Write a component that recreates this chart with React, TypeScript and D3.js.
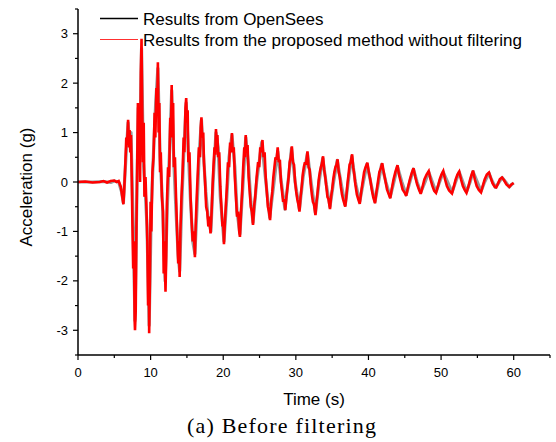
import React from "react";
import * as d3 from "d3";

// OpenSees result (black): [time s, acceleration g]
const openSeesT = [0,2,3.5,4.5,5,5.6,6,6.25,6.6,6.9,7.1,7.3,7.55,7.85,8.1,8.3,8.5,8.75,9,9.3,9.5,9.8,10.1,10.4,10.7,11,11.3,11.6,12,12.3,12.6,12.9,13.2,13.5,13.8,14,14.3,14.6,14.9,15.2,15.5,15.8,16.1,16.4,16.7,17,17.3,17.6,17.9,18.3,18.6,19,19.3,19.6,20.1,20.5,20.8,21.2,21.6,21.9,22.3,22.7,23.1,23.5,23.8,24.1,24.6,25.3,25.8,26.4,27,27.5,28,28.5,29,29.4,29.9,30.5,31,31.6,32.1,32.7,33.2,33.7,34.2,34.7,35.2,35.7,36.2,36.8,37.3,37.7,38.2,38.8,39.3,39.8,40.3,40.9,41.4,41.8,42.4,43,43.5,44,44.6,45.2,45.7,46.2,46.7,47.2,47.8,48.3,48.8,49.3,49.8,50.3,50.9,51.5,52,52.5,53,53.5,54,54.4,55,55.5,56,56.6,57,57.5,58,58.4,58.9,59.4,59.8,60];
const openSeesA = [0,0,0.01,-0.01,0.02,0,-0.2,-0.42,0.5,1.2,0.75,1.0,-0.6,-2.8,-0.3,1.5,0.6,2.7,0.4,-0.3,-0.9,-2.9,-0.5,0.6,1.6,2.3,0.5,-0.3,-2.0,-0.5,0.6,1.85,0.4,-0.6,-1.5,-1.8,-0.4,0.7,1.6,0.6,-0.4,-1.2,-1.45,-0.5,0.6,1.25,0.5,-0.2,-0.7,-1.0,0,1.0,0.7,-0.3,-1.2,-0.3,0.5,0.95,0.3,-0.6,-1.05,-0.1,0.9,0.3,-0.4,-0.82,0,0.8,0.1,-0.72,0,0.62,0,-0.55,0.1,0.68,0,-0.55,0.1,0.58,0,-0.63,0,0.48,-0.05,-0.5,0,0.44,0,-0.47,0.1,0.52,0,-0.4,0,0.36,0,-0.4,0,0.35,0,-0.3,0,0.31,0,-0.26,0,0.26,0,-0.21,0,0.2,0,-0.2,0,0.2,0,-0.21,0,0.2,0,-0.2,0,0.21,0,-0.19,0,0.18,0.03,-0.11,0,0.09,0,-0.1,-0.04,-0.02];

// Proposed method without filtering (red)
const proposedT = [0,1,2,3,3.5,4,4.5,5,5.3,5.6,5.9,6.1,6.25,6.35,6.5,6.65,6.75,6.9,7,7.1,7.2,7.3,7.4,7.5,7.6,7.7,7.8,7.85,7.95,8.05,8.15,8.25,8.35,8.45,8.55,8.65,8.75,8.85,8.95,9.05,9.15,9.3,9.4,9.55,9.65,9.75,9.8,9.9,10,10.1,10.25,10.4,10.55,10.65,10.8,10.9,11,11.1,11.2,11.3,11.4,11.55,11.7,11.8,11.9,12.05,12.15,12.25,12.4,12.55,12.7,12.8,12.9,13,13.1,13.2,13.35,13.5,13.65,13.8,13.9,14,14.1,14.25,14.4,14.55,14.65,14.8,14.9,15,15.1,15.2,15.35,15.5,15.65,15.8,15.95,16.1,16.2,16.35,16.5,16.65,16.8,16.9,17,17.1,17.25,17.35,17.5,17.65,17.8,17.95,18.1,18.25,18.4,18.5,18.65,18.8,18.9,19,19.1,19.2,19.3,19.45,19.6,19.75,19.9,20,20.1,20.2,20.35,20.5,20.65,20.8,20.95,21.1,21.2,21.3,21.45,21.6,21.75,21.9,22.05,22.2,22.3,22.45,22.6,22.75,22.9,23,23.1,23.2,23.35,23.5,23.65,23.8,23.95,24.1,24.25,24.4,24.6,24.8,24.95,25.1,25.25,25.4,25.55,25.7,25.85,26,26.15,26.3,26.45,26.6,26.75,26.9,27.05,27.2,27.35,27.5,27.65,27.8,27.95,28.1,28.25,28.4,28.55,28.7,28.85,29,29.15,29.3,29.45,29.6,29.75,29.9,30.05,30.2,30.35,30.5,30.65,30.8,30.95,31.1,31.25,31.4,31.6,31.75,31.9,32.05,32.2,32.35,32.5,32.7,32.85,33,33.15,33.3,33.45,33.6,33.75,33.9,34.05,34.2,34.35,34.5,34.7,34.85,35,35.15,35.3,35.45,35.6,35.75,35.9,36.05,36.2,36.35,36.5,36.8,36.95,37.1,37.25,37.4,37.55,37.75,37.9,38.05,38.2,38.4,38.6,38.8,39,39.2,39.4,39.6,39.85,40.05,40.25,40.45,40.65,40.9,41.1,41.3,41.5,41.7,41.9,42.1,42.3,42.55,42.8,43,43.2,43.45,43.7,44,44.2,44.45,44.7,45,45.2,45.45,45.7,45.95,46.2,46.45,46.7,46.95,47.2,47.45,47.7,48,48.3,48.55,48.8,49.05,49.3,49.55,49.8,50.05,50.3,50.55,50.8,51.1,51.5,51.75,52,52.25,52.5,52.75,53,53.25,53.5,53.75,54,54.2,54.4,54.65,54.9,55.2,55.5,55.75,56,56.3,56.6,56.85,57.1,57.4,57.6,57.85,58.1,58.4,58.7,59,59.4,59.7,60];
const proposedA = [0,0.01,-0.01,0,0.02,-0.01,0.02,0.03,0,0.02,-0.1,-0.3,-0.45,-0.2,0.3,0.9,0.75,1.26,0.7,1.05,0.6,0.95,0.1,-0.9,-1.75,-1.2,-2.8,-3.0,-2.6,-0.9,0.3,1.6,0.4,1.1,0,2.2,2.9,1.4,0.4,1.2,-0.3,0.1,-0.4,-1.2,-2.5,-1.6,-3.06,-2.0,-0.4,-1.0,0.2,0.5,1.4,0.9,1.9,1.5,2.42,1.0,1.6,0.2,0.6,-0.3,-0.6,-1.85,-1.2,-2.22,-1.5,-0.4,0.3,0.1,1.3,0.9,1.96,1.0,1.6,0.3,0.5,-0.3,-1.0,-1.65,-1.2,-1.92,-1.0,-0.3,0.2,0.9,0.6,1.5,1.7,1.2,1.45,0.4,0.6,-0.3,-0.8,-1.2,-1.0,-1.52,-0.9,-0.3,0.2,0.7,0.5,1.1,1.31,0.9,1.0,0.4,0,-0.5,-0.6,-0.9,-0.7,-1.04,-0.6,-0.2,0.3,0.7,0.55,1.07,0.7,0.95,0.5,0.6,-0.1,-0.5,-0.9,-0.8,-1.26,-0.9,-0.5,-0.1,0.4,0.3,0.8,0.6,0.99,0.6,0.7,0.1,-0.3,-0.7,-0.6,-1.0,-1.11,-0.6,-0.2,0.3,0.7,0.5,0.95,0.6,0.75,0.1,-0.2,-0.5,-0.6,-0.87,-0.5,-0.3,0.1,0.4,0.3,0.7,0.6,0.85,0.5,0.6,0.1,-0.2,-0.5,-0.6,-0.77,-0.4,-0.2,0.1,0.3,0.5,0.45,0.7,0.4,0.45,0,-0.2,-0.4,-0.35,-0.57,-0.3,-0.1,0.1,0.4,0.5,0.72,0.4,0.35,0,-0.2,-0.35,-0.45,-0.6,-0.3,-0.1,0.15,0.3,0.4,0.35,0.62,0.3,0.25,-0.05,-0.25,-0.4,-0.45,-0.67,-0.4,-0.2,0.05,0.2,0.3,0.38,0.52,0.25,0.1,-0.1,-0.3,-0.35,-0.55,-0.3,-0.15,0.05,0.2,0.3,0.35,0.46,0.2,0.1,-0.1,-0.25,-0.35,-0.5,-0.3,-0.05,0.15,0.35,0.4,0.56,0.3,0.15,-0.05,-0.25,-0.35,-0.44,-0.2,0,0.2,0.3,0.39,0.2,0.05,-0.15,-0.3,-0.43,-0.2,0,0.2,0.28,0.38,0.2,0.05,-0.15,-0.25,-0.33,-0.15,0.05,0.2,0.34,0.15,0,-0.15,-0.22,-0.28,-0.1,0.05,0.18,0.28,0.1,-0.05,-0.15,-0.24,-0.1,0.05,0.15,0.22,0.05,-0.08,-0.18,-0.22,-0.1,0.05,0.15,0.22,0.05,-0.08,-0.17,-0.23,-0.1,0.05,0.15,0.21,0.05,-0.08,-0.16,-0.22,-0.1,0.05,0.15,0.23,0.05,-0.08,-0.16,-0.21,-0.08,0.05,0.15,0.19,0.08,-0.03,-0.1,-0.11,-0.03,0.06,0.09,0.03,-0.05,-0.1,-0.05,-0.02];

const xMajorTicks = [0, 10, 20, 30, 40, 50, 60];
const xMinorTicks = [5, 15, 25, 35, 45, 55, 65];
const yMajorTicks = [-3, -2, -1, 0, 1, 2, 3];
const yMinorTicks = [-3.5, -2.5, -1.5, -0.5, 0.5, 1.5, 2.5, 3.5];
const seriesNames = ["Results from OpenSees", "Results from the proposed method without filtering"];

const W = 556, H = 442;
const L = 78, R = 550, T = 9, B = 355;

export default function App() {
  const x = d3.scaleLinear().domain([0, 65]).range([L, R]);
  const y = d3.scaleLinear().domain([-3.5, 3.5]).range([B, T]);
  const line = d3.line<[number, number]>().x(d => x(d[0])).y(d => y(d[1]));
  const black = openSeesT.map((t, i) => [t, openSeesA[i]] as [number, number]);
  const red = proposedT.map((t, i) => [t, proposedA[i]] as [number, number]);
  const font = "Arial, 'Liberation Sans', sans-serif";
  return (
    <svg width={W} height={H} style={{ position: "absolute", left: 0, top: 0, background: "#fff" }} fontFamily={font}>
      <path d={line(black) || ""} fill="none" stroke="#000" strokeOpacity={0.4} strokeWidth={3.2} strokeLinejoin="round" />
      <path d={line(red) || ""} fill="none" stroke="#ff0000" strokeWidth={2.6} strokeLinejoin="miter" strokeMiterlimit={3} />
      {/* axes */}
      <line x1={L} x2={L} y1={T} y2={B} stroke="#000" strokeWidth={1.5} />
      <line x1={L} x2={R} y1={B} y2={B} stroke="#000" strokeWidth={1.5} />
      {yMajorTicks.map(v => (
        <g key={"ym" + v}>
          <line x1={L - 5} x2={L} y1={y(v)} y2={y(v)} stroke="#000" strokeWidth={1.2} />
          <text x={L - 10} y={y(v) + 4.5} textAnchor="end" fontSize={13}>{String(v)}</text>
        </g>
      ))}
      {yMinorTicks.map(v => (
        <line key={"yn" + v} x1={L - 3} x2={L} y1={y(v)} y2={y(v)} stroke="#000" strokeWidth={1.2} />
      ))}
      {xMajorTicks.map(v => (
        <g key={"xm" + v}>
          <line x1={x(v)} x2={x(v)} y1={B} y2={B + 5} stroke="#000" strokeWidth={1.2} />
          <text x={x(v)} y={B + 22} textAnchor="middle" fontSize={13}>{String(v)}</text>
        </g>
      ))}
      {xMinorTicks.map(v => (
        <line key={"xn" + v} x1={x(v)} x2={x(v)} y1={B} y2={B + 3} stroke="#000" strokeWidth={1.2} />
      ))}
      <text x={(L + R) / 2} y={405} textAnchor="middle" fontSize={17}>Time (s)</text>
      <text transform={`translate(32,187) rotate(-90)`} textAnchor="middle" fontSize={17}>Acceleration (g)</text>
      {/* legend */}
      <line x1={100} x2={138} y1={18.5} y2={18.5} stroke="#000" strokeWidth={1.5} />
      <text x={143} y={25} fontSize={17}>{seriesNames[0]}</text>
      <line x1={100} x2={138} y1={39.5} y2={39.5} stroke="#ff3030" strokeWidth={1} />
      <text x={143} y={46} fontSize={17}>{seriesNames[1]}</text>
      <text x={187} y={433} fontSize={22} fontFamily="'Liberation Serif', serif" letterSpacing={1.2}>(a) Before filtering</text>
    </svg>
  );
}
